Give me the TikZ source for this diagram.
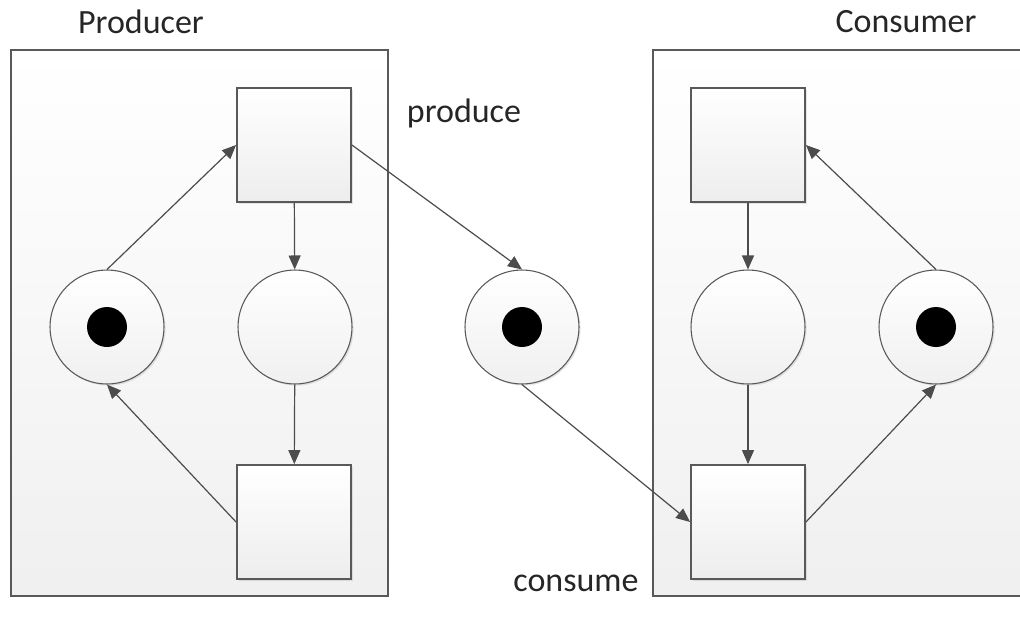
\documentclass[tikz,border=0pt]{standalone}
\usepackage{fontspec}
\setmainfont{Carlito}
\usetikzlibrary{arrows.meta,shadows,positioning}

\begin{document}
\begin{tikzpicture}[x=0.75pt, y=-0.75pt,
  every node/.style={font=\fontsize{25.5}{29}\selectfont, text=black!85},
  group/.style={draw=black!65, line width=1.3pt, top color=white, bottom color=black!6, minimum width=282.75pt, minimum height=409.5pt, inner sep=0pt},
  trans/.style={draw=black!65, line width=1.4pt, top color=white, bottom color=black!7, minimum size=85.5pt, inner sep=0pt, drop shadow={shadow xshift=1.2pt, shadow yshift=-1.2pt, opacity=0.2}},
  place/.style={circle, draw=black!65, line width=0.8pt, top color=white, bottom color=black!6, minimum size=85.5pt, inner sep=0pt, drop shadow={shadow xshift=1.2pt, shadow yshift=-1.2pt, opacity=0.2}},
  token/.style={circle, fill=black, minimum size=30pt, inner sep=0pt},
  arc/.style={draw=black!70, line width=0.9pt, -{Triangle[length=10.5pt, width=9pt]}}]
\useasboundingbox (0,0) rectangle (1020,619);
% the two sides
\node[group] (prod) at (199.5,323) {};
\node[group] (cons) at (841.5,323) {};
\node (prodlbl) at (141,22) {Producer};
\node (conslbl) at (906,22) {Consumer};
% producer
\node[trans] (pt1) at (294,145) {};
\node[trans] (pt2) at (294,522) {};
\node[place] (pp1) at (107,327) {};
\node[place] (pp2) at (295,327) {};
\node[token] at (pp1) {};
% buffer
\node[place] (buf) at (522,327) {};
\node[token] at (buf) {};
% consumer
\node[trans] (ct1) at (748,145) {};
\node[trans] (ct2) at (748,522) {};
\node[place] (cp1) at (748,327) {};
\node[place] (cp2) at (936,327) {};
\node[token] at (cp2) {};
\node (prodtxt) at (464,113) {produce};
\node (constxt) at (576,583) {consume};
% arcs
\draw[arc] (pp1.north) -- (pt1.west);
\draw[arc] (pt1) -- (pp2);
\draw[arc] (pp2) -- (pt2);
\draw[arc] (pt2.west) -- (pp1.south);
\draw[arc] (pt1.east) -- (buf.north);
\draw[arc] (buf.south) -- (ct2.west);
\draw[arc] (ct1) -- (cp1);
\draw[arc] (cp1) -- (ct2);
\draw[arc] (ct2.east) -- (cp2.south);
\draw[arc] (cp2.north) -- (ct1.east);
\end{tikzpicture}
\end{document}
